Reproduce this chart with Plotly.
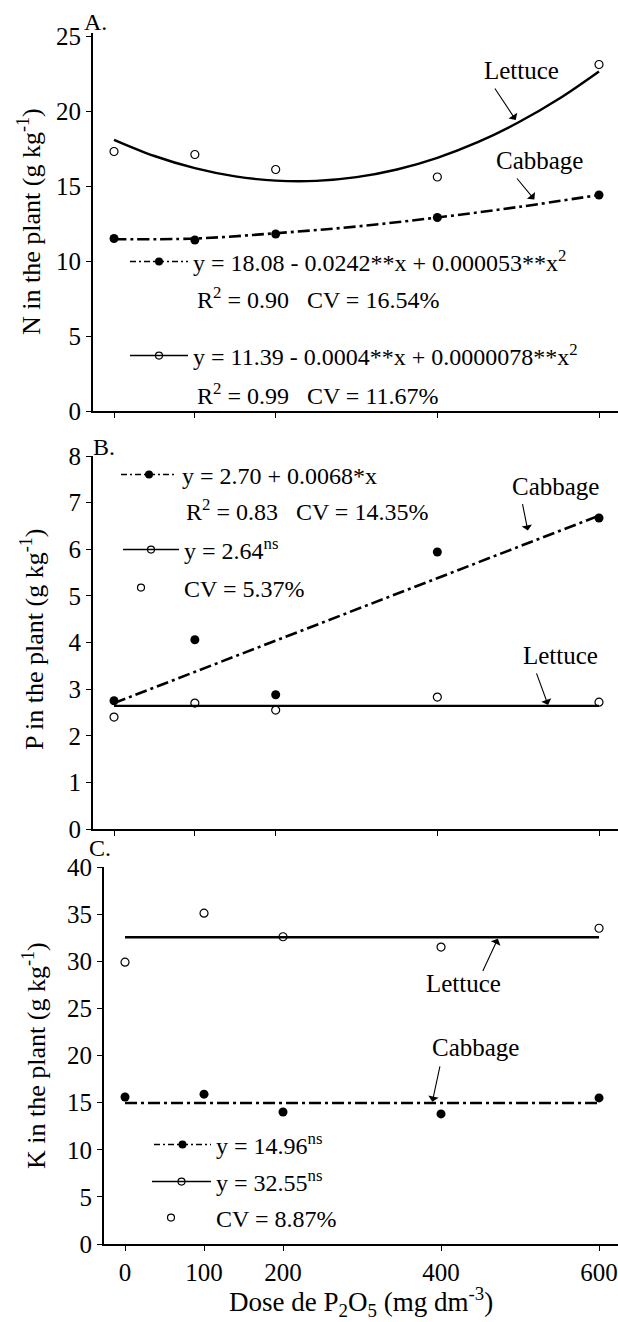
import plotly.graph_objects as go

# ---------------- data ----------------
doses = [0, 100, 200, 400, 600]
dose_ticks = [0, 100, 200, 400, 600]

# Panel A - N
n_lettuce = [17.3, 17.1, 16.1, 15.6, 23.1]
n_cabbage = [11.5, 11.4, 11.8, 12.9, 14.4]
n_fit_x_lettuce = [0, 50, 100, 150, 200, 250, 300, 350, 400, 450, 500, 550, 600]
n_fit_lettuce = [18.08, 17.00, 16.19, 15.64, 15.36, 15.34, 15.59, 16.10, 16.88, 17.92, 19.23, 20.80, 22.64]
n_fit_x_cabbage = [0, 100, 200, 300, 400, 500, 600]
n_fit_cabbage = [11.45, 11.50, 11.85, 12.30, 12.90, 13.60, 14.40]

# Panel B - P
p_lettuce = [2.40, 2.70, 2.55, 2.83, 2.72]
p_cabbage = [2.75, 4.06, 2.88, 5.94, 6.67]
p_fit_x = [0, 600]
p_fit_lettuce = [2.64, 2.64]
p_fit_cabbage = [2.70, 6.72]

# Panel C - K
k_lettuce = [29.9, 35.1, 32.6, 31.5, 33.5]
k_cabbage = [15.6, 15.9, 14.0, 13.8, 15.5]
k_fit_x = [0, 600]
k_fit_lettuce = [32.55, 32.55]
k_fit_cabbage = [14.96, 14.96]

n_ticks = [0, 5, 10, 15, 20, 25]
p_ticks = [0, 1, 2, 3, 4, 5, 6, 7, 8]
k_ticks = [0, 5, 10, 15, 20, 25, 30, 35, 40]

# ---------------- style ----------------
W, H = 618, 1322
FONT = "Liberation Serif, Times New Roman, DejaVu Serif, serif"
BLACK = "black"
DASHDOT = "12px,4px,3px,4px"
EQ = 24
LBL = 25


def px_x(p):
    return p / W


def px_y(p):
    return 1 - p / H


fig = go.Figure()


def add_panel(idx, fx_l, fy_l, fx_c, fy_c, y_l, y_c, spline=False):
    xa = "x" if idx == 1 else f"x{idx}"
    ya = "y" if idx == 1 else f"y{idx}"
    shape = "spline" if spline else "linear"
    fig.add_trace(go.Scatter(x=fx_l, y=fy_l, mode="lines", line=dict(color=BLACK, width=2.4, shape=shape),
                             xaxis=xa, yaxis=ya, showlegend=False, hoverinfo="skip"))
    fig.add_trace(go.Scatter(x=fx_c, y=fy_c, mode="lines", line=dict(color=BLACK, width=2.6, dash=DASHDOT, shape=shape),
                             xaxis=xa, yaxis=ya, showlegend=False, hoverinfo="skip"))
    fig.add_trace(go.Scatter(x=doses, y=y_c, mode="markers",
                             marker=dict(symbol="circle", size=9, color=BLACK),
                             xaxis=xa, yaxis=ya, showlegend=False))
    fig.add_trace(go.Scatter(x=doses, y=y_l, mode="markers",
                             marker=dict(symbol="circle-open", size=8, color=BLACK, line=dict(width=1.2)),
                             xaxis=xa, yaxis=ya, showlegend=False))


add_panel(1, n_fit_x_lettuce, n_fit_lettuce, n_fit_x_cabbage, n_fit_cabbage, n_lettuce, n_cabbage, spline=True)
add_panel(2, p_fit_x, p_fit_lettuce, p_fit_x, p_fit_cabbage, p_lettuce, p_cabbage)
add_panel(3, k_fit_x, k_fit_lettuce, k_fit_x, k_fit_cabbage, k_lettuce, k_cabbage)

# ---------------- legend entries (one legend each) ----------------
legend_defs = []


def legend_entry(name, kind, left_px, y_px, itemwidth):
    n = len(legend_defs) + 1
    key = "legend" if n == 1 else f"legend{n}"
    if kind == "cab":
        tr = go.Scatter(x=[None], y=[None], mode="lines+markers", name=name,
                        line=dict(color=BLACK, width=1.5, dash="6px,3px,2px,3px"),
                        marker=dict(symbol="circle", size=8, color=BLACK))
    elif kind == "let":
        tr = go.Scatter(x=[None], y=[None], mode="lines+markers", name=name,
                        line=dict(color=BLACK, width=1.5),
                        marker=dict(symbol="circle-open", size=7, color=BLACK, line=dict(width=1.2)))
    else:
        tr = go.Scatter(x=[None], y=[None], mode="markers", name=name,
                        marker=dict(symbol="circle-open", size=7, color=BLACK, line=dict(width=1.2)))
    tr.update(legend=key, showlegend=True)
    fig.add_trace(tr)
    legend_defs.append((key, dict(x=px_x(left_px), y=px_y(y_px), xanchor="left", yanchor="middle",
                                  bgcolor="rgba(0,0,0,0)", borderwidth=0, itemwidth=itemwidth,
                                  font=dict(family=FONT, size=EQ, color=BLACK), itemclick=False)))


legend_entry("y = 18.08 - 0.0242**x + 0.000053**x<sup>2</sup>", "cab", 125, 262, 58)
legend_entry("y = 11.39 - 0.0004**x + 0.0000078**x<sup>2</sup>", "let", 125, 356, 58)
legend_entry("y = 2.70 + 0.0068*x", "cab", 116, 475, 56)
legend_entry("y = 2.64<sup>ns</sup>", "let", 118, 550, 56)
legend_entry("CV = 5.37%", "pt", 98, 588, 76)
legend_entry("y = 14.96<sup>ns</sup>", "cab", 149, 1145, 57)
legend_entry("y = 32.55<sup>ns</sup>", "let", 147, 1182, 59)
legend_entry("CV = 8.87%", "pt", 126, 1218, 80)

for key, d in legend_defs:
    fig.update_layout({key: d})

# ---------------- axes ----------------
axis_common = dict(showline=True, linewidth=2, linecolor=BLACK, showgrid=False, zeroline=False,
                   ticks="outside", ticklen=5, tickwidth=1, tickcolor=BLACK, automargin=False,
                   tickfont=dict(family=FONT, size=25, color=BLACK))

fig.update_layout(
    xaxis=dict(domain=[px_x(93), 1], range=[-26, 623.5], tickvals=dose_ticks, showticklabels=False,
               anchor="y", **axis_common),
    yaxis=dict(domain=[px_y(411), px_y(33)], range=[0, 25.2], tickvals=n_ticks, anchor="x", **axis_common),
    xaxis2=dict(domain=[px_x(93), 1], range=[-26, 623.5], tickvals=dose_ticks, showticklabels=False,
                anchor="y2", **axis_common),
    yaxis2=dict(domain=[px_y(829), px_y(456)], range=[0, 8], tickvals=p_ticks, anchor="x2", **axis_common),
    xaxis3=dict(domain=[px_x(104), 1], range=[-26.6, 624], tickvals=dose_ticks, showticklabels=True,
                anchor="y3", **axis_common),
    yaxis3=dict(domain=[px_y(1244), px_y(867)], range=[0, 40], tickvals=k_ticks, anchor="x3", **axis_common),
)

# ---------------- annotations ----------------
ann = []


def text_paper(text, xp, yp, size, xanchor="center", angle=0):
    ann.append(dict(text=text, x=px_x(xp), y=px_y(yp), xref="paper", yref="paper", showarrow=False,
                    xanchor=xanchor, yanchor="middle", textangle=angle,
                    font=dict(family=FONT, size=size, color=BLACK)))


def label_arrow(panel, text, tx, ty, tail, tip):
    xr = "x" if panel == 1 else f"x{panel}"
    yr = "y" if panel == 1 else f"y{panel}"
    ann.append(dict(text=text, x=tx, y=ty, xref=xr, yref=yr, showarrow=False,
                    font=dict(family=FONT, size=LBL, color=BLACK)))
    ann.append(dict(text="", x=tip[0], y=tip[1], ax=tail[0], ay=tail[1], xref=xr, yref=yr,
                    axref=xr, ayref=yr, showarrow=True, arrowhead=1, arrowsize=1.6, arrowwidth=1.1,
                    arrowcolor=BLACK, standoff=0, startstandoff=0))


NB = "\u00a0"
text_paper("A.", 96, 22, 24)
text_paper("B.", 104, 447, 24)
text_paper("C.", 100, 848, 24)

text_paper(f"R<sup>2</sup> = 0.90{NB*3}CV = 16.54%", 195, 298, EQ, xanchor="left")
text_paper(f"R<sup>2</sup> = 0.99{NB*3}CV = 11.67%", 195, 394, EQ, xanchor="left")
text_paper(f"R<sup>2</sup> = 0.83{NB*3}CV = 14.35%", 184, 510, EQ, xanchor="left")

text_paper("N in the plant (g kg<sup>-1</sup>)", 30, 222, 26, angle=-90)
text_paper("P in the plant (g kg<sup>-1</sup>)", 32, 640, 26, angle=-90)
text_paper("K in the plant (g kg<sup>-1</sup>)", 34, 1056, 26, angle=-90)
text_paper("Dose de P<sub>2</sub>O<sub>5</sub> (mg dm<sup>-3</sup>)", 361, 1302, 27)

label_arrow(1, "Lettuce", 504, 22.7, (470, 21.6), (497, 19.4))
label_arrow(1, "Cabbage", 526, 16.7, (497, 15.6), (520, 14.1))
label_arrow(2, "Cabbage", 546, 7.34, (505, 7.0), (512, 6.4))
label_arrow(2, "Lettuce", 552, 3.73, (522, 3.37), (537, 2.66))
label_arrow(3, "Lettuce", 429, 27.6, (452, 28.8), (472, 32.4))
label_arrow(3, "Cabbage", 444, 20.8, (399, 19.0), (389, 15.1))

fig.update_layout(
    template="none",
    width=W, height=H, margin=dict(l=0, r=0, t=0, b=0, pad=0, autoexpand=False),
    paper_bgcolor="white", plot_bgcolor="white",
    annotations=ann,
    font=dict(family=FONT, color=BLACK),
)

fig.write_html("out.html", config={"displayModeBar": False},
               post_script="document.body.style.margin='0';")
